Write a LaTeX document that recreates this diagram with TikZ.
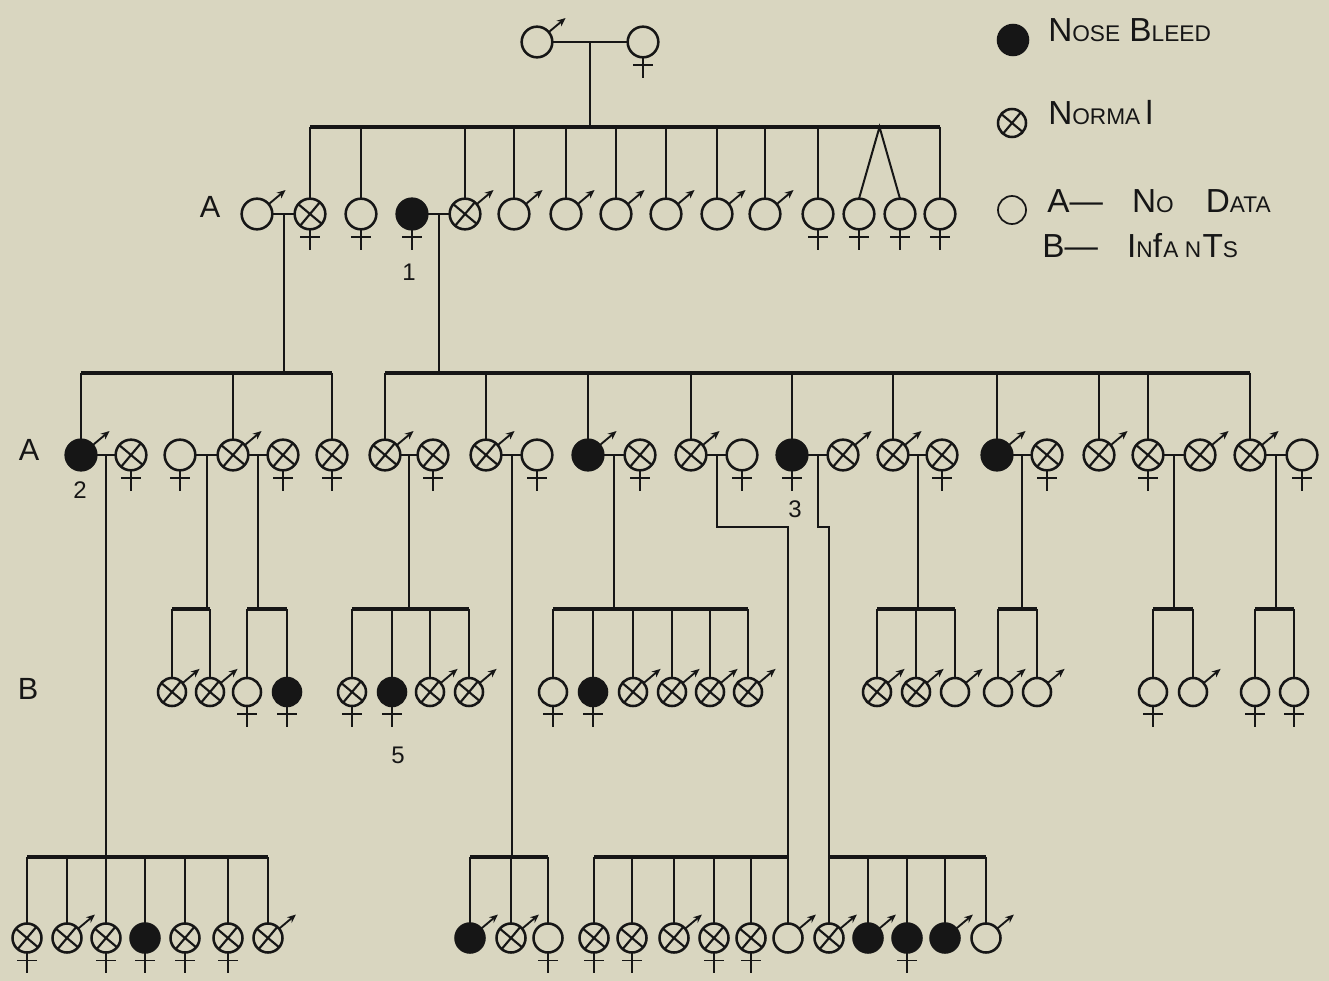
\documentclass[tikz,border=0pt]{standalone}
\usepackage{fontspec}
\setmainfont{Liberation Sans}
\usetikzlibrary{calc,arrows.meta}
\definecolor{paper}{HTML}{D9D6C0}
\definecolor{ink}{HTML}{161616}

\tikzset{
  pers/.style={circle,draw=ink,line width=1.9pt,minimum size=23pt,inner sep=0pt,outer sep=0pt},
  kid/.style={minimum size=21pt},
  last/.style={minimum size=21.75pt},
  affected/.style={fill=ink},
  nodata/.style={fill=paper},
  normal/.style={fill=paper,
    path picture={\draw[ink,line width=1.6pt]
      ([shift={(50:14pt)}]path picture bounding box.center) -- ([shift={(230:14pt)}]path picture bounding box.center)
      ([shift={(140:14pt)}]path picture bounding box.center) -- ([shift={(320:14pt)}]path picture bounding box.center);}},
  link/.style={draw=ink,line width=1.5pt},
  sib/.style={draw=ink,line width=2.5pt},
  marrow/.style={draw=ink,line width=1.4pt,-{Stealth[length=6.5pt,width=5.5pt]}},
  fline/.style={draw=ink,line width=1.4pt},
  lab/.style={text=ink,font=\fontsize{23}{23}\selectfont,inner sep=0pt},
  num/.style={text=ink,font=\fontsize{18}{18}\selectfont,inner sep=0pt},
  legtext/.style={text=ink,font=\fontsize{25}{25}\selectfont,inner sep=0pt,anchor=base west},
}

% male: circle with arrow, female: circle with cross below
\newcommand\malep[4]{%
  \node[pers,#4] (#1) at (#2,#3) {};
  \draw[marrow] (#1.40) -- ++(40:16.5pt);}
\newcommand\femp[4]{%
  \node[pers,#4] (#1) at (#2,#3) {};
  \draw[fline] (#1.south) -- ++(0pt,-15.5pt);
  \draw[fline] ([yshift=-6pt]#1.south) ++(-7.5pt,0pt) -- ++(15pt,0pt);}
% marriage line and its midpoint
\newcommand\marry[3]{%
  \draw[link] (#1) -- (#2);
  \coordinate (#3) at ($(#1)!0.5!(#2)$);}
\newcommand\smc[1]{{\fontsize{17}{17}\selectfont #1}}

\begin{document}
\begin{tikzpicture}[x=0.75pt,y=-0.75pt]
\fill[paper] (0,0) rectangle (1329,981);
\useasboundingbox (0,0) rectangle (1329,981);

% levels of the sibship lines
\coordinate (s0) at (0,127);
\coordinate (s1) at (0,373);
\coordinate (s2) at (0,609);
\coordinate (s3) at (0,857);
\coordinate (jg) at (0,527);

% ---------- founders ----------
\malep{p1}{537}{42}{nodata}
\femp{p2}{643}{42}{nodata}
\marry{p1}{p2}{m0}
\draw[link] (m0) -- (m0 |- s0);

% ---------- first generation ----------
\malep{a1}{257}{214}{nodata}
\femp{a2}{310}{214}{normal}
\femp{a3}{361}{214}{nodata}
\femp{a4}{412}{214}{affected}
\malep{a5}{465}{214}{normal}
\malep{a6}{514}{214}{nodata}
\malep{a7}{566}{214}{nodata}
\malep{a8}{616}{214}{nodata}
\malep{a9}{666}{214}{nodata}
\malep{a10}{717}{214}{nodata}
\malep{a11}{765}{214}{nodata}
\femp{a12}{818}{214}{nodata}
\femp{a13}{859}{214}{nodata}
\femp{a14}{900}{214}{nodata}
\femp{a15}{940}{214}{nodata}

\draw[sib] (a2.north |- s0) -- (a15.north |- s0);
\foreach \who in {a2,a3,a5,a6,a7,a8,a9,a10,a11,a12,a15}
  \draw[link] (\who.north |- s0) -- (\who.north);
\coordinate (tw) at ($(a13.north)!0.5!(a14.north)$);
\draw[link] (a13.north) -- (tw |- s0) -- (a14.north);

\marry{a1}{a2}{m1}
\marry{a4}{a5}{m2}
\draw[link] (m1) -- (m1 |- s1);
\draw[link] (m2) -- (m2 |- s1);

% ---------- second generation ----------
\malep{b1}{81}{455}{affected}
\femp{b2}{131}{455}{normal}
\femp{b3}{180}{455}{nodata}
\malep{b4}{233}{455}{normal}
\femp{b5}{283}{455}{normal}
\femp{b6}{332}{455}{normal}
\malep{b7}{385}{455}{normal}
\femp{b8}{433}{455}{normal}
\malep{b9}{486}{455}{normal}
\femp{b10}{537}{455}{nodata}
\malep{b11}{588}{455}{affected}
\femp{b12}{640}{455}{normal}
\malep{b13}{691}{455}{normal}
\femp{b14}{742}{455}{nodata}
\femp{b15}{792}{455}{affected}
\malep{b16}{843}{455}{normal}
\malep{b17}{893}{455}{normal}
\femp{b18}{942}{455}{normal}
\malep{b19}{997}{455}{affected}
\femp{b20}{1047}{455}{normal}
\malep{b21}{1099}{455}{normal}
\femp{b22}{1148}{455}{normal}
\malep{b23}{1200}{455}{normal}
\malep{b24}{1250}{455}{normal}
\femp{b25}{1302}{455}{nodata}

\draw[sib] (b1.north |- s1) -- (b6.north |- s1);
\draw[sib] (b7.north |- s1) -- (b24.north |- s1);
\foreach \who in {b1,b4,b6,b7,b9,b11,b13,b15,b17,b19,b21,b22,b24}
  \draw[link] (\who.north |- s1) -- (\who.north);

\marry{b1}{b2}{n1}
\marry{b3}{b4}{n2}
\marry{b4}{b5}{n3}
\marry{b7}{b8}{n4}
\marry{b9}{b10}{n5}
\marry{b11}{b12}{n6}
\marry{b13}{b14}{n7}
\marry{b15}{b16}{n8}
\marry{b17}{b18}{n9}
\marry{b19}{b20}{n10}
\marry{b22}{b23}{n11}
\marry{b24}{b25}{n12}

% ---------- third generation (infants row) ----------
\malep{c1}{172}{692}{normal,kid}
\malep{c2}{210}{692}{normal,kid}
\femp{c3}{247}{692}{nodata,kid}
\femp{c4}{287}{692}{affected,kid}
\femp{c5}{352}{692}{normal,kid}
\femp{c6}{392}{692}{affected,kid}
\malep{c7}{430}{692}{normal,kid}
\malep{c8}{469}{692}{normal,kid}
\femp{c9}{553}{692}{nodata,kid}
\femp{c10}{593}{692}{affected,kid}
\malep{c11}{633}{692}{normal,kid}
\malep{c12}{672}{692}{normal,kid}
\malep{c13}{710}{692}{normal,kid}
\malep{c14}{748}{692}{normal,kid}
\malep{c15}{877}{692}{normal,kid}
\malep{c16}{916}{692}{normal,kid}
\malep{c17}{955}{692}{nodata,kid}
\malep{c18}{998}{692}{nodata,kid}
\malep{c19}{1037}{692}{nodata,kid}
\femp{c20}{1153}{692}{nodata,kid}
\malep{c21}{1193}{692}{nodata,kid}
\femp{c22}{1255}{692}{nodata,kid}
\femp{c23}{1294}{692}{nodata,kid}

\draw[sib] (c1.north |- s2) -- (c2.north |- s2);
\draw[sib] (c3.north |- s2) -- (c4.north |- s2);
\draw[sib] (c5.north |- s2) -- (c8.north |- s2);
\draw[sib] (c9.north |- s2) -- (c14.north |- s2);
\draw[sib] (c15.north |- s2) -- (c17.north |- s2);
\draw[sib] (c18.north |- s2) -- (c19.north |- s2);
\draw[sib] (c20.north |- s2) -- (c21.north |- s2);
\draw[sib] (c22.north |- s2) -- (c23.north |- s2);
\foreach \who in {c1,c2,c3,c4,c5,c6,c7,c8,c9,c10,c11,c12,c13,c14,c15,c16,c17,c18,c19,c20,c21,c22,c23}
  \draw[link] (\who.north |- s2) -- (\who.north);
\foreach \mm in {n2,n3,n4,n6,n9,n10,n11,n12}
  \draw[link] (\mm) -- (\mm |- s2);

% ---------- third generation (bottom row) ----------
\femp{d1}{27}{938}{normal,last}
\malep{d2}{67}{938}{normal,last}
\femp{d3}{106}{938}{normal,last}
\femp{d4}{145}{938}{affected,last}
\femp{d5}{185}{938}{normal,last}
\femp{d6}{228}{938}{normal,last}
\malep{d7}{268}{938}{normal,last}
\malep{e1}{470}{938}{affected,last}
\malep{e2}{511}{938}{normal,last}
\femp{e3}{548}{938}{nodata,last}
\femp{e4}{594}{938}{normal,last}
\femp{e5}{632}{938}{normal,last}
\malep{e6}{674}{938}{normal,last}
\femp{e7}{714}{938}{normal,last}
\femp{e8}{751}{938}{normal,last}
\malep{e9}{788}{938}{nodata,last}
\malep{e10}{829}{938}{normal,last}
\malep{e11}{868}{938}{affected,last}
\femp{e12}{907}{938}{affected,last}
\malep{e13}{945}{938}{affected,last}
\malep{e14}{986}{938}{nodata,last}

\draw[sib] (d1.north |- s3) -- (d7.north |- s3);
\draw[sib] (e1.north |- s3) -- (e3.north |- s3);
\draw[sib] (e4.north |- s3) -- (e9.north |- s3);
\draw[sib] (e10.north |- s3) -- (e14.north |- s3);
\foreach \who in {d1,d2,d3,d4,d5,d6,d7,e1,e2,e3,e4,e5,e6,e7,e8,e9,e10,e11,e12,e13,e14}
  \draw[link] (\who.north |- s3) -- (\who.north);
\draw[link] (n1) -- (n1 |- s3);
\draw[link] (n5) -- (n5 |- s3);
\draw[link] (n7) -- (n7 |- jg) -- (e9.north |- jg) -- (e9.north |- s3);
\draw[link] (n8) -- (n8 |- jg) -- (e10.north |- jg) -- (e10.north |- s3);

% ---------- row and case labels ----------
\node[lab,anchor=base] (la1) at (210,217) {A};
\node[lab,anchor=base] (la2) at (29,460) {A};
\node[lab,anchor=base] (lb) at (28,699) {B};
\node[num,anchor=base] (k1) at (409,280) {1};
\node[num,anchor=base] (k2) at (80,498) {2};
\node[num,anchor=base] (k3) at (795,517) {3};
\node[num,anchor=base] (k5) at (398,763) {5};

% ---------- key ----------
\node[pers,affected,minimum size=22.5pt] (g1) at (1013,40) {};
\node[pers,normal,minimum size=21pt] (g2) at (1012,123) {};
\node[pers,nodata,minimum size=21pt,line width=1.3pt] (g3) at (1012,210) {};
\node[legtext] (t1) at (1048,42) {N\smc{OSE} B\smc{LEED}};
\node[legtext] (t2) at (1048,125) {N\smc{ORMA}\hspace{4pt}l};
\node[legtext] (t3) at (1047,212) {A—\hspace{22pt}N\smc{O}\hspace{24pt}D\smc{ATA}};
\node[legtext] (t4) at (1042,257) {B—\hspace{22pt}I\smc{N}f\hspace{1pt}\smc{A N}\hspace{1pt}T\smc{S}};
\end{tikzpicture}
\end{document}
